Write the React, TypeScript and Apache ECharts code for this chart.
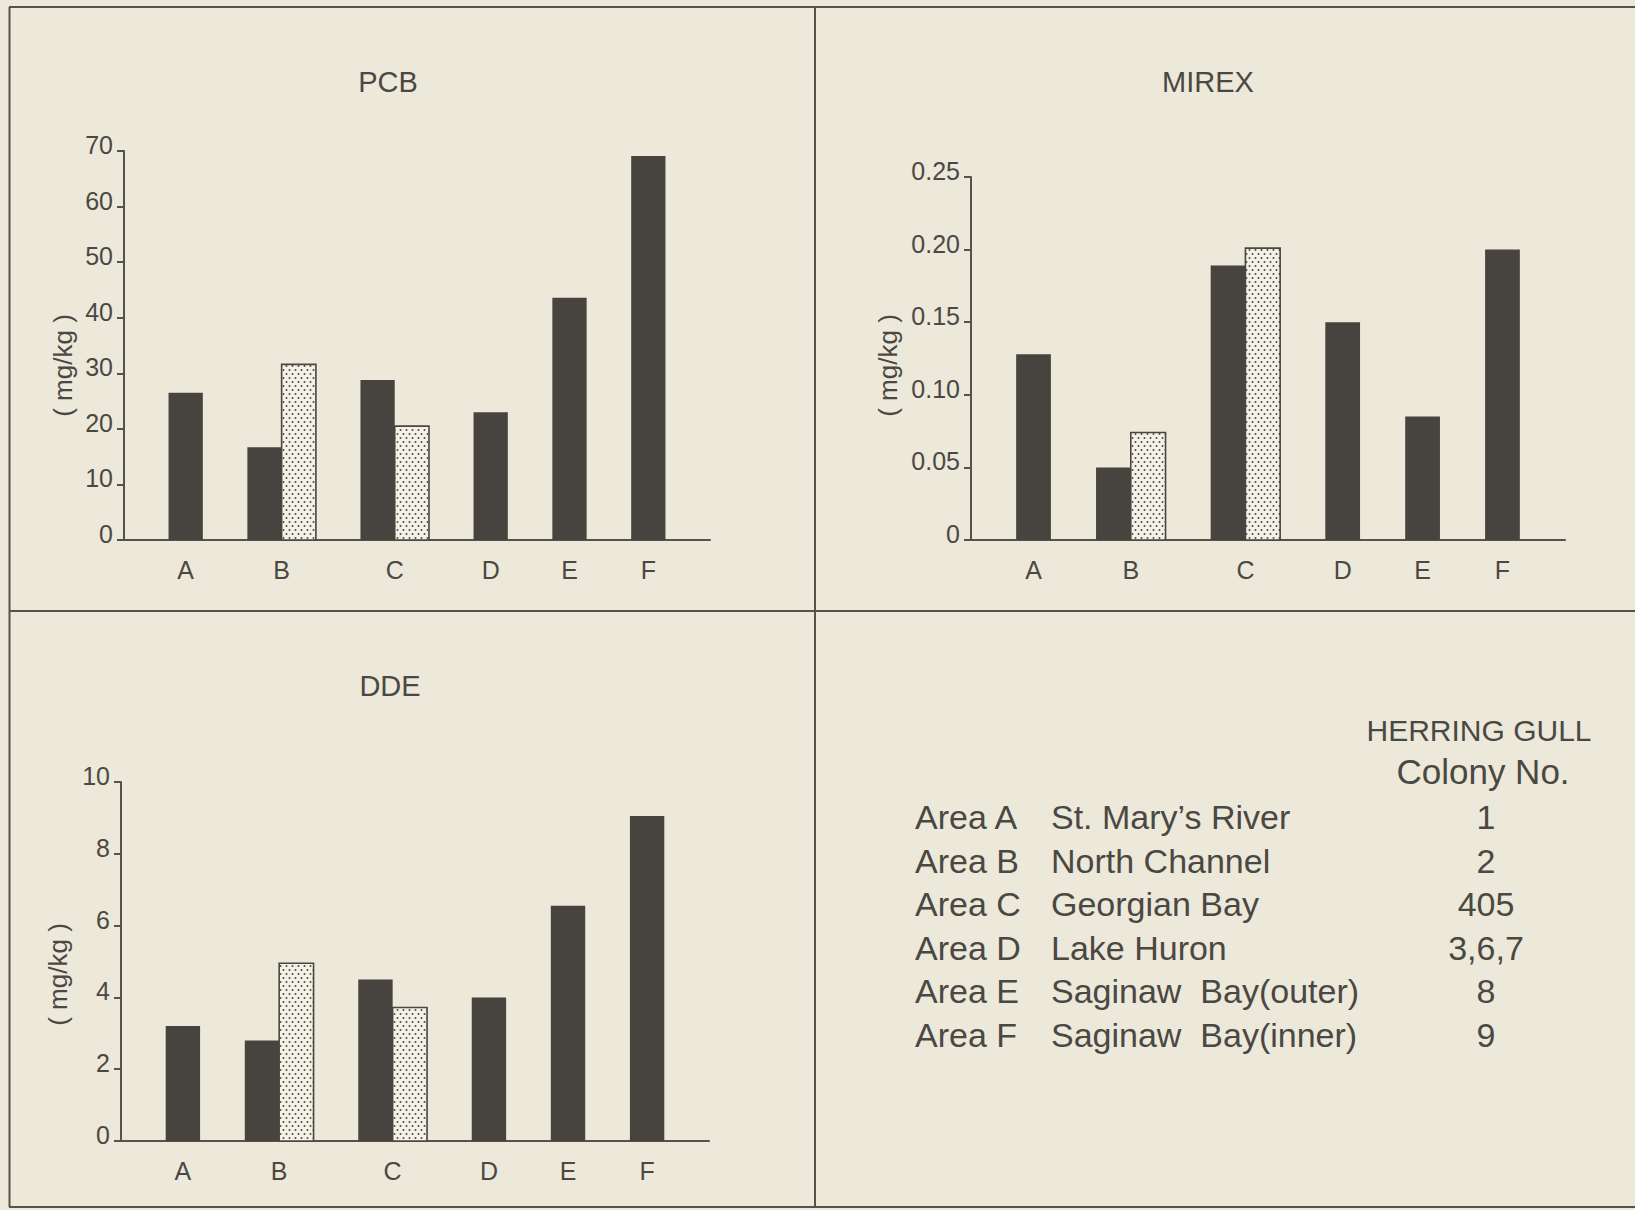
import React, { useEffect, useRef } from 'react';
import * as echarts from 'echarts';

// ---------- data ----------
const categories = ['A', 'B', 'C', 'D', 'E', 'F'];

const pcbDark = [26.5, 16.7, 28.8, 23.0, 43.6, 69.1];
const pcbStippled = [null, 31.6, 20.5, null, null, null];

const mirexDark = [0.128, 0.05, 0.189, 0.15, 0.085, 0.2];
const mirexStippled = [null, 0.074, 0.201, null, null, null];

const ddeDark = [3.2, 2.8, 4.5, 4.0, 6.55, 9.05];
const ddeStippled = [null, 4.95, 3.72, null, null, null];

const areaCodes = ['Area A', 'Area B', 'Area C', 'Area D', 'Area E', 'Area F'];
const areaNames = [
  'St. Mary\u2019s River',
  'North Channel',
  'Georgian Bay',
  'Lake Huron',
  'Saginaw  Bay(outer)',
  'Saginaw  Bay(inner)',
];
const colonyNos = ['1', '2', '405', '3,6,7', '8', '9'];

// ---------- styles ----------
const BG = '#ece8da';
const INK = '#55524c';
const TEXT = '#4b4843';
const DARK = '#47433e';
const FONT = '"Liberation Sans", Arial, Helvetica, sans-serif';
const GAP = 1.3; // gap between bar groups, in bar widths

function layout(stip: (number | null)[]) {
  let pos = GAP;
  const darkX: number[] = [];
  const stipX: (number | null)[] = [];
  const centers: number[] = [];
  stip.forEach((s) => {
    const n = s == null ? 1 : 2;
    darkX.push(pos + 0.5);
    stipX.push(n === 2 ? pos + 1.5 : null);
    centers.push(pos + n / 2);
    pos += n + GAP;
  });
  return { darkX, stipX, centers, total: pos };
}

function makePattern() {
  const c = document.createElement('canvas');
  c.width = 6;
  c.height = 8;
  const ctx = c.getContext('2d')!;
  ctx.fillStyle = '#f4f1e7';
  ctx.fillRect(0, 0, 6, 8);
  ctx.fillStyle = '#4f4b45';
  ctx.beginPath();
  ctx.arc(1.5, 2, 1.0, 0, Math.PI * 2);
  ctx.arc(4.5, 6, 1.0, 0, Math.PI * 2);
  ctx.fill();
  return c;
}

export default function App() {
  const ref = useRef<HTMLDivElement>(null);

  useEffect(() => {
    if (!ref.current) return;
    const chart = echarts.init(ref.current, undefined, { renderer: 'svg' });
    const pattern = { image: makePattern(), repeat: 'repeat' };

    const panels = [
      { title: 'PCB', dark: pcbDark, stip: pcbStippled, max: 70, interval: 10,
        grid: { left: 124, top: 151, width: 586, height: 389 }, titleX: 388, titleY: 67,
        nameGap: 48, namePad: [0, 40, 0, 0], fmt: (v: number) => String(v) },
      { title: 'MIREX', dark: mirexDark, stip: mirexStippled, max: 0.25, interval: 0.05,
        grid: { left: 971, top: 177, width: 594, height: 363 }, titleX: 1208, titleY: 67,
        nameGap: 70, namePad: [0, 14, 0, 0], fmt: (v: number) => (v === 0 ? '0' : v.toFixed(2)) },
      { title: 'DDE', dark: ddeDark, stip: ddeStippled, max: 10, interval: 2,
        grid: { left: 121, top: 782, width: 588, height: 359 }, titleX: 390, titleY: 671,
        nameGap: 50, namePad: [0, 26, 0, 0], fmt: (v: number) => String(v) },
    ];

    const barRender = (kind: 'dark' | 'stip') => (params: any, api: any) => {
      const x = api.value(0);
      const v = api.value(1);
      const p0 = api.coord([x - 0.5, v]);
      const p1 = api.coord([x + 0.5, 0]);
      return {
        type: 'rect',
        shape: { x: p0[0], y: p0[1], width: p1[0] - p0[0], height: p1[1] - p0[1] },
        style: kind === 'dark'
          ? { fill: DARK }
          : { fill: pattern, stroke: '#4a4640', lineWidth: 1.6 },
      };
    };

    const grids: any[] = [];
    const xAxes: any[] = [];
    const yAxes: any[] = [];
    const series: any[] = [];
    const titles: any[] = [];

    panels.forEach((p, gi) => {
      const L = layout(p.stip);
      grids.push(p.grid);
      titles.push({
        text: p.title, left: p.titleX, top: p.titleY, textAlign: 'center', padding: 0,
        textStyle: { fontFamily: FONT, fontSize: 29, fontWeight: 'normal', color: TEXT },
      });
      xAxes.push({
        type: 'value', gridIndex: gi, min: 0, max: L.total,
        axisLine: { show: true, lineStyle: { color: INK, width: 2 } },
        axisTick: { show: false },
        splitLine: { show: false },
        axisLabel: {
          customValues: L.centers,
          margin: 17,
          fontSize: 25,
          fontFamily: FONT,
          color: TEXT,
          formatter: (v: number) => {
            let best = 0;
            L.centers.forEach((c, i) => { if (Math.abs(c - v) < Math.abs(L.centers[best] - v)) best = i; });
            return categories[best];
          },
        },
      });
      yAxes.push({
        type: 'value', gridIndex: gi, min: 0, max: p.max, interval: p.interval,
        axisLine: { show: true, lineStyle: { color: INK, width: 2 } },
        axisTick: { show: true, length: 7, lineStyle: { color: INK, width: 2 } },
        splitLine: { show: false },
        axisLabel: {
          fontSize: 25, lineHeight: 12, fontFamily: FONT, color: TEXT, margin: 11,
          verticalAlign: 'bottom', formatter: p.fmt,
        },
        name: '( mg/kg )', nameLocation: 'middle', nameGap: p.nameGap,
        nameTextStyle: { fontSize: 26, fontFamily: FONT, color: TEXT, padding: p.namePad },
      });
      series.push({
        type: 'custom', name: p.title + ' dark', xAxisIndex: gi, yAxisIndex: gi,
        renderItem: barRender('dark'), encode: { x: 0, y: 1 },
        data: p.dark.map((v, i) => [L.darkX[i], v]),
      });
      series.push({
        type: 'custom', name: p.title + ' stippled', xAxisIndex: gi, yAxisIndex: gi,
        renderItem: barRender('stip'), encode: { x: 0, y: 1 },
        data: p.stip
          .map((v, i) => (v == null ? null : [L.stipX[i] as number, v]))
          .filter((d) => d != null),
      });
    });

    const line = (x1: number, y1: number, x2: number, y2: number) => ({
      type: 'line', shape: { x1, y1, x2, y2 }, style: { stroke: INK, lineWidth: 2 }, silent: true,
    });

    const rowY0 = 817;
    const rowStep = 43.6;
    const legendText: any[] = [];
    legendText.push({
      type: 'text', x: 1479, y: 730,
      style: { text: 'HERRING GULL', fontSize: 30, fontFamily: FONT, fill: TEXT, align: 'center', verticalAlign: 'middle' },
    });
    legendText.push({
      type: 'text', x: 1483, y: 771,
      style: { text: 'Colony No.', fontSize: 35, fontFamily: FONT, fill: TEXT, align: 'center', verticalAlign: 'middle' },
    });
    areaCodes.forEach((code, i) => {
      const y = rowY0 + i * rowStep;
      legendText.push({
        type: 'text', x: 915, y,
        style: { text: code, fontSize: 34, fontFamily: FONT, fill: TEXT, align: 'left', verticalAlign: 'middle' },
      });
      legendText.push({
        type: 'text', x: 1051, y,
        style: { text: areaNames[i], fontSize: 34, fontFamily: FONT, fill: TEXT, align: 'left', verticalAlign: 'middle' },
      });
      legendText.push({
        type: 'text', x: 1486, y,
        style: { text: colonyNos[i], fontSize: 34, fontFamily: FONT, fill: TEXT, align: 'center', verticalAlign: 'middle' },
      });
    });

    chart.setOption({
      animation: false,
      backgroundColor: BG,
      textStyle: { fontFamily: FONT },
      title: titles,
      grid: grids,
      xAxis: xAxes,
      yAxis: yAxes,
      series,
      graphic: {
        elements: [
          line(9, 7, 1635, 7),
          line(9.5, 7, 9.5, 1207),
          line(815, 7, 815, 1207),
          line(9, 611, 1635, 611),
          line(9, 1207, 1635, 1207),
          ...legendText,
        ],
      },
    });

    return () => chart.dispose();
  }, []);

  return (
    <div
      ref={ref}
      style={{ position: 'absolute', left: 0, top: 0, width: 1635, height: 1210 }}
    />
  );
}
